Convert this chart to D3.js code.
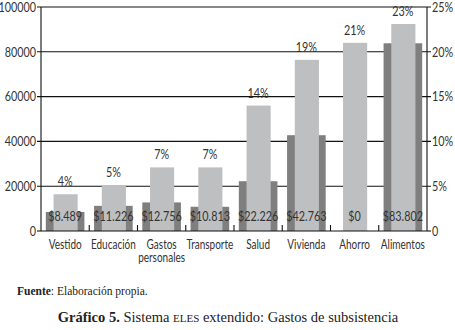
<!DOCTYPE html>
<html><head><meta charset="utf-8">
<script src="https://cdn.jsdelivr.net/npm/d3@7"></script>
<style>
body{margin:0;background:#fff;}
svg{display:block;}
</style></head>
<body>
<svg id="c" width="455" height="330"></svg>
<script>
const categories = ["Vestido","Educación","Gastos personales","Transporte","Salud","Vivienda","Ahorro","Alimentos"];
const gastos = [8489, 11226, 12756, 10813, 22226, 42763, 0, 83802];
const gastosLabels = ["$8.489","$11.226","$12.756","$10.813","$22.226","$42.763","$0","$83.802"];
const porcentajes = [4.1, 5.1, 7.1, 7.1, 14, 19.1, 21, 23.1];
const pctLabels = ["4%","5%","7%","7%","14%","19%","21%","23%"];
const leftTicks = [0,20000,40000,60000,80000,100000];
const rightTicks = [0,5,10,15,20,25];

const svg = d3.select("#c");
const m = {l:41, r:427, t:7, b:231};
const font = "Lato,'Open Sans',sans-serif";
const SX = 0.8;

const x = d3.scaleBand().domain(categories).range([m.l, m.r]);
const yL = d3.scaleLinear().domain([0,100000]).range([m.b, m.t]);
const yR = d3.scaleLinear().domain([0,25]).range([m.b, m.t]);

function ntext(g, px, py, str, anchor, size){
  return g.append("text")
    .attr("transform", `translate(${px},${py}) scale(${SX},1)`)
    .attr("text-anchor", anchor)
    .style("font-family", font).style("font-size", size+"px")
    .attr("fill", "#333").text(str);
}

// gridlines
svg.append("g").selectAll("line").data(leftTicks.filter(d=>d>0)).join("line")
  .attr("x1", m.l-4).attr("x2", m.r+4)
  .attr("y1", d=>yL(d)).attr("y2", d=>yL(d))
  .attr("stroke","#111").attr("stroke-width",1.1);

const bw = x.bandwidth();
// dark bars (gastos)
svg.append("g").selectAll("rect").data(categories).join("rect")
  .attr("x", d=>x(d)+bw*0.1).attr("width", bw*0.8)
  .attr("y", (d,i)=>yL(gastos[i])).attr("height",(d,i)=>m.b-yL(gastos[i]))
  .attr("fill","#7f7f7f");
// light bars (percent)
svg.append("g").selectAll("rect").data(categories).join("rect")
  .attr("x", d=>x(d)+bw*0.26).attr("width", bw*0.5)
  .attr("y", (d,i)=>yR(porcentajes[i])).attr("height",(d,i)=>m.b-yR(porcentajes[i]))
  .attr("fill","#bebfc1");

// axes lines
const ax = svg.append("g").attr("stroke","#111").attr("stroke-width",1.1);
ax.append("line").attr("x1",m.l).attr("x2",m.l).attr("y1",m.t).attr("y2",m.b);
ax.append("line").attr("x1",m.r).attr("x2",m.r).attr("y1",m.t).attr("y2",m.b);
ax.append("line").attr("x1",m.l).attr("x2",m.r).attr("y1",m.b).attr("y2",m.b);
ax.selectAll("line.t").data(categories.slice(1)).join("line").attr("class","t")
  .attr("x1",d=>x(d)).attr("x2",d=>x(d)).attr("y1",m.b-6).attr("y2",m.b);
ax.append("line").attr("x1",m.l-4).attr("x2",m.l).attr("y1",m.b).attr("y2",m.b);
ax.append("line").attr("x1",m.r).attr("x2",m.r+4).attr("y1",m.b).attr("y2",m.b);

const tg = svg.append("g");
leftTicks.forEach(d=>ntext(tg, 36, yL(d)+4.8, String(d), "end", 13.5));
rightTicks.forEach(d=>ntext(tg, 432, yR(d)+4.8, d===0?"0":d+"%", "start", 13.5));

categories.forEach((c,i)=>{
  const cx = x(c)+bw/2;
  ntext(tg, cx, 220.5, gastosLabels[i], "middle", 13.5);
  ntext(tg, cx, yR(porcentajes[i])-8, pctLabels[i], "middle", 13.5);
  if (c==="Gastos personales"){
    ntext(tg, cx, 249, "Gastos", "middle", 12.5);
    ntext(tg, cx, 262, "personales", "middle", 12.5);
  } else {
    ntext(tg, cx, 249, c, "middle", 12.5);
  }
});

// footer
const serif = "'Liberation Serif','DejaVu Serif',serif";
const f = svg.append("text").attr("x",17).attr("y",295)
  .style("font-family",serif).style("font-size","11.5px").attr("fill","#222");
f.append("tspan").attr("font-weight","bold").text("Fuente");
f.append("tspan").text(": Elaboración propia.");

const t = svg.append("text").attr("x",228).attr("y",322).attr("text-anchor","middle")
  .style("font-family",serif).style("font-size","14.5px").attr("fill","#222");
t.append("tspan").attr("font-weight","bold").text("Gráfico 5.");
t.append("tspan").text(" Sistema ");
t.append("tspan").style("font-size","11px").text("ELES");
t.append("tspan").text(" extendido: Gastos de subsistencia");
</script>
</body></html>
